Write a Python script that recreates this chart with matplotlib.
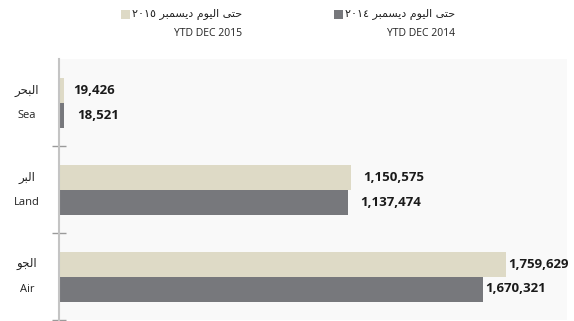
import matplotlib
matplotlib.use("Agg")
import matplotlib.pyplot as plt
import matplotlib.transforms as mtransforms
from matplotlib.patches import Rectangle
import numpy as np

plt.rcParams['font.family'] = ['Open Sans', 'DejaVu Sans']

# Datos
categorias_en = ['Sea', 'Land', 'Air']
# formas de presentación árabes en orden visual (matplotlib no hace shaping)
categorias_ar = ['\ufeae\ufea4\ufe92\ufedf\ufe8d',
                 '\ufeae\ufe92\ufedf\ufe8d',
                 '\ufeee\ufea0\ufedf\ufe8d']
valores_2015 = [19426, 1150575, 1759629]
valores_2014 = [18521, 1137474, 1670321]

leyenda_ar_2014 = '\u0662\u0660\u0661\u0664 \ufeae\ufe92\ufee4\ufeb4\ufef3\ufea9 \ufee1\ufeee\ufef4\ufedf\ufe8d \ufef0\ufe98\ufea3'
leyenda_ar_2015 = '\u0662\u0660\u0661\u0665 \ufeae\ufe92\ufee4\ufeb4\ufef3\ufea9 \ufee1\ufeee\ufef4\ufedf\ufe8d \ufef0\ufe98\ufea3'
leyenda_en_2014 = 'YTD DEC 2014'
leyenda_en_2015 = 'YTD DEC 2015'

COLOR_2015 = '#dedac6'
COLOR_2014 = '#77787c'

W, H = 574, 321
fig = plt.figure(figsize=(W / 100, H / 100), dpi=100)
fig.patch.set_facecolor('white')
ax = fig.add_axes([59 / W, 1 / H, 508 / W, 261 / H])
ax.set_facecolor('#f9f9f9')

y = np.arange(len(categorias_en))
h = 25 / 87

ax.barh(y - h / 2, valores_2015, height=h, color=COLOR_2015, align='center')
ax.barh(y + h / 2, valores_2014, height=h, color=COLOR_2014, align='center')

ax.set_xlim(0, 2000000)
ax.set_ylim(2.5, -0.5)

# etiquetas de valores
pads = [(7, 9.5), (8.5, 8.5), (1.5, 1.5)]
for i in range(len(y)):
    ax.annotate(f'{valores_2015[i]:,}', (valores_2015[i], y[i] - h / 2),
                xytext=(pads[i][0], 0), textcoords='offset points',
                va='center', ha='left', fontsize=9.5, fontweight='bold', color='#1a1a1a')
    ax.annotate(f'{valores_2014[i]:,}', (valores_2014[i], y[i] + h / 2),
                xytext=(pads[i][1], 0), textcoords='offset points',
                va='center', ha='left', fontsize=9.5, fontweight='bold', color='#1a1a1a')

# etiquetas de categorías
trans = mtransforms.blended_transform_factory(ax.transAxes, ax.transData)
for i in range(len(y)):
    ax.text(-32 / 508, y[i] - h / 2, categorias_ar[i], transform=trans,
            ha='center', va='center', fontsize=8.5, color='#222222',
            family='DejaVu Sans')
    ax.text(-32 / 508, y[i] + h / 2, categorias_en[i], transform=trans,
            ha='center', va='center', fontsize=8, color='#222222')

# ejes
for s in ['top', 'right', 'bottom']:
    ax.spines[s].set_visible(False)
ax.spines['left'].set_color('#c4c4c4')
ax.spines['left'].set_linewidth(1.5)
ax.set_xticks([])
ax.set_yticks([0.5, 1.5, 2.5])
ax.set_yticklabels([])
ax.tick_params(axis='y', direction='inout', length=10, width=1, color='#9a9a9a')

# leyenda manual
def fx(px):
    return px / W

def fy(py):
    return 1 - py / H

fig.patches.append(Rectangle((fx(334), fy(19)), 9 / W, 9 / H, transform=fig.transFigure,
                             facecolor=COLOR_2014, edgecolor='none'))
fig.patches.append(Rectangle((fx(121), fy(19)), 9 / W, 9 / H, transform=fig.transFigure,
                             facecolor=COLOR_2015, edgecolor='none'))
fig.text(fx(455), fy(14), leyenda_ar_2014, ha='right', va='center', fontsize=8,
         color='#222222', family='DejaVu Sans')
fig.text(fx(242), fy(14), leyenda_ar_2015, ha='right', va='center', fontsize=8,
         color='#222222', family='DejaVu Sans')
fig.text(fx(455), fy(33), leyenda_en_2014, ha='right', va='center', fontsize=7.5, color='#222222')
fig.text(fx(242), fy(33), leyenda_en_2015, ha='right', va='center', fontsize=7.5, color='#222222')

fig.savefig('out.png', dpi=100)
plt.close(fig)
